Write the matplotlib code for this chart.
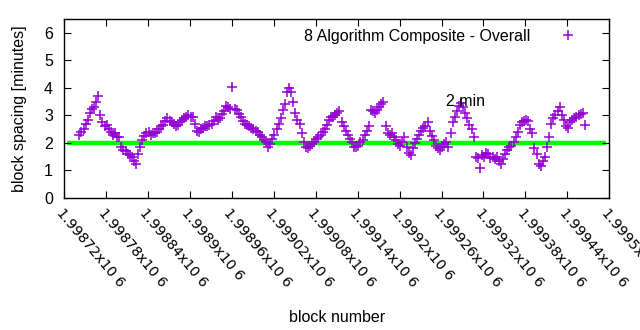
import numpy as np
import matplotlib
matplotlib.use("Agg")
import matplotlib.pyplot as plt

# ---- data ----
first_block = 1998742
block_step = 3
spacing_minutes = [
    2.3, 2.4, 2.5, 2.7, 2.85, 3.1, 3.25, 3.3, 3.5, 3.7,
    3.0, 2.75, 2.6, 2.65, 2.5, 2.4, 2.3, 2.35, 2.2, 2.2,
    1.85, 1.75, 1.7, 1.6, 1.55, 1.5, 1.35, 1.25, 1.6, 1.85,
    2.1, 2.25, 2.35, 2.4, 2.3, 2.35, 2.35, 2.4, 2.5, 2.6,
    2.65, 2.8, 2.9, 2.8, 2.75, 2.7, 2.6, 2.65, 2.75, 2.85,
    2.9, 2.95, 3.0, 2.95, 2.95, 2.7, 2.45, 2.4, 2.5, 2.55,
    2.6, 2.6, 2.65, 2.7, 2.8, 2.95, 2.85, 2.9, 3.05, 3.15,
    3.35, 3.3, 3.25, 4.05, 3.25, 3.2, 3.05, 2.95, 2.8, 2.7,
    2.65, 2.6, 2.55, 2.5, 2.45, 2.4, 2.3, 2.2, 2.1, 2.05,
    1.85, 1.95, 2.15, 2.3, 2.5, 2.7, 2.9, 3.2, 3.4, 3.85,
    4.0, 3.85, 3.5, 3.1, 2.85, 2.7, 2.35, 2.05, 1.85, 1.8,
    1.9, 1.95, 2.05, 2.15, 2.2, 2.3, 2.4, 2.5, 2.65, 2.85,
    2.95, 2.95, 3.0, 3.1, 3.15, 2.75, 2.6, 2.45, 2.3, 2.15,
    2.05, 1.85, 1.85, 1.9, 2.05, 2.1, 2.3, 2.45, 2.6, 3.2,
    3.15, 3.1, 3.2, 3.3, 3.4, 3.5, 2.6, 2.35, 2.3, 2.35,
    2.2, 2.1, 1.95, 1.9, 2.05, 2.2, 1.85, 1.65, 1.55, 1.8,
    2.0, 2.15, 2.3, 2.45, 2.55, 2.6, 2.75, 2.45, 2.25, 2.1,
    1.9, 1.8, 1.75, 1.85, 1.95, 2.05, 1.85, 2.35, 2.75, 2.95,
    3.15, 3.35, 3.45, 3.3, 3.1, 2.9, 2.65, 2.5, 2.2, 1.5,
    1.45, 1.1, 1.55, 1.5, 1.65, 1.6, 1.45, 1.5, 1.4, 1.5,
    1.35, 1.25, 1.4, 1.6, 1.75, 1.85, 1.9, 2.05, 2.2, 2.4,
    2.65, 2.75, 2.8, 2.85, 2.8, 2.5, 2.35, 1.8, 1.6, 1.25,
    1.15, 1.35, 1.5, 1.85, 2.2, 2.7, 2.9, 3.0, 3.15, 3.3,
    3.0, 2.85, 2.6, 2.55, 2.75, 2.85, 2.9, 2.95, 3.0, 3.05,
    3.1, 2.65,
]
blocks = first_block + block_step * np.arange(len(spacing_minutes))

target_minutes = 2
x_min, x_max = 1998720, 1999500
tick_step = 60
y_ticks = [0, 1, 2, 3, 4, 5, 6]
series_label = "8 Algorithm Composite - Overall"
target_label = "2 min"
target_label_pos = (1999266, 3.5)

# ---- plot ----
plt.rcParams['font.family'] = ['Liberation Sans', 'DejaVu Sans']
fig = plt.figure(figsize=(6.4, 3.3), dpi=100)
ax = fig.add_axes([0.1, 0.4, 0.852, 0.542])

ax.hlines(target_minutes, x_min + 4, x_max - 4, color='#00ff00', lw=3.2, zorder=1)
ax.plot(blocks, spacing_minutes, ls='none', marker='+', ms=7, mew=1.1,
        color='#9400d3', label=series_label, zorder=2)

ax.set_xlim(x_min, x_max)
ax.set_ylim(0, 6.5)
ax.set_yticks(y_ticks)
ax.tick_params(axis='both', direction='in', top=True, right=True, length=5,
               width=0.8)
ax.tick_params(axis='y', labelsize=11.5, pad=8)
ax.tick_params(axis='x', pad=6)
xt = np.arange(x_min, x_max + 1, tick_step)
ax.set_xticks(xt)
ax.set_xticklabels([f"{v/1e6:.6g}x10 6" for v in xt], rotation=-50,
                   ha='left', va='top', rotation_mode='anchor', fontsize=10.2,
                   family='DejaVu Sans')
for s in ax.spines.values():
    s.set_linewidth(1.0)

ax.set_ylabel("block spacing [minutes]", fontsize=11.5, labelpad=12)
ax.set_xlabel("block number", fontsize=11.5, labelpad=14)
ax.text(*target_label_pos, target_label, fontsize=11.5, va='center', ha='left')

ax.legend(loc='upper right', markerfirst=False, frameon=False, fontsize=11.5,
          handlelength=2.2, handletextpad=1.3, borderaxespad=0.2,
          bbox_to_anchor=(0.975, 1.0))

fig.savefig("out.png", dpi=100)
